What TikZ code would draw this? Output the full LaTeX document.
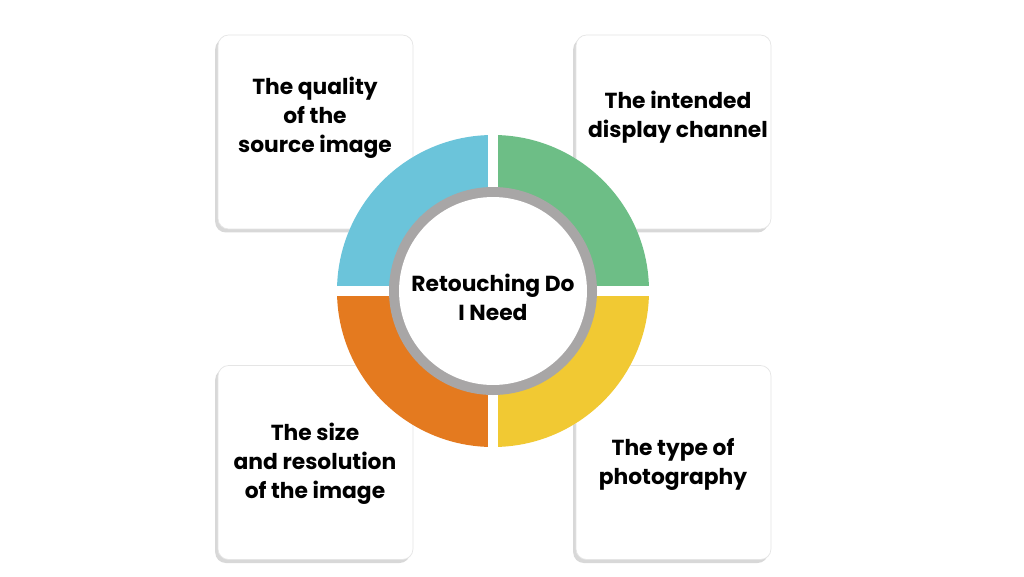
\documentclass[tikz,border=0pt]{standalone}
\usepackage{fontspec}
\setmainfont{Poppins}
\usetikzlibrary{shadows, calc}
\definecolor{segblue}{HTML}{6BC4DA}
\definecolor{seggreen}{HTML}{6DBE86}
\definecolor{segyellow}{HTML}{F1C933}
\definecolor{segorange}{HTML}{E47A1F}
\definecolor{ringgray}{HTML}{A8A6A6}
\tikzstyle{card} = [rectangle, rounded corners=6pt, minimum width=3.9cm, minimum height=3.88cm, fill=white, draw=black!10, line width=0.4pt, drop shadow={shadow xshift=-1.6pt, shadow yshift=-2pt, opacity=0.25, fill=black!60}]
\tikzstyle{txt} = [align=center, text=black, font=\bfseries\fontsize{12.4}{16.5}\selectfont]

\begin{document}
\begin{tikzpicture}[x=0.02cm, y=0.02cm]
    \fill[white] (0,0) rectangle (1024,576);
    \useasboundingbox (0,0) rectangle (1024,576);
    % four cards
    \node [card] at (315.5,444) (quality) {};
    \node [card] at (673.5,444) (channel) {};
    \node [card] at (315.5,113.5) (size) {};
    \node [card] at (673.5,113.5) (type) {};
    \node [txt] at (315,458) (qualitytxt) {The quality\\of the\\source image};
    \node [txt] at (678,459) (channeltxt) {The intended\\display channel};
    \node [txt] at (315,112) (sizetxt) {The size\\and resolution\\of the image};
    \node [txt] at (673,111.5) (typetxt) {The type of\\photography};
    % ring
    \coordinate (c) at (493,285);
    \begin{scope}
        \clip (c) circle (156);
        \fill[white] ($(c)+(-160,-160)$) rectangle ++(320,320);
        \fill[seggreen] ($(c)+(5,5)$) rectangle ++(160,160);
        \fill[segblue] ($(c)+(-5,5)$) rectangle ++(-160,160);
        \fill[segorange] ($(c)+(-5,-5)$) rectangle ++(-160,-160);
        \fill[segyellow] ($(c)+(5,-5)$) rectangle ++(160,-160);
    \end{scope}
    \fill[ringgray] (c) circle (104);
    \node [circle, fill=white, minimum size=3.76cm, inner sep=0pt] at (c) (hub) {};
    \node [txt] at (493,279) (hubtxt) {Retouching Do\\I Need};
\end{tikzpicture}
\end{document}
